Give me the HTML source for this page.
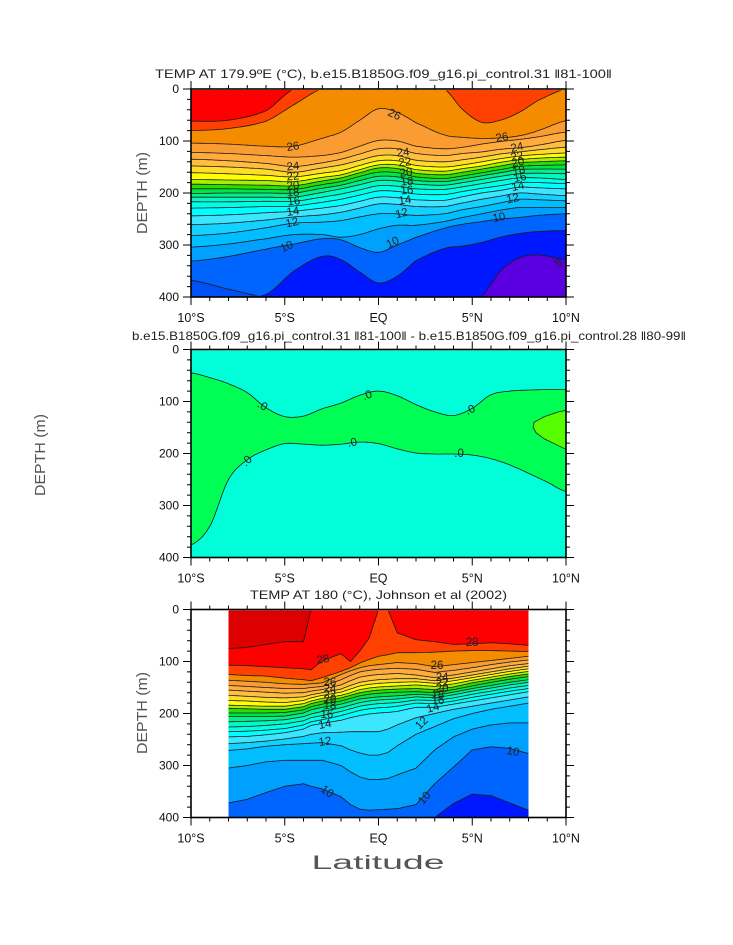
<!DOCTYPE html>
<html><head><meta charset="utf-8"><title>Temperature sections</title>
<style>
html,body{margin:0;padding:0;background:#fff;}
svg{display:block;font-family:"Liberation Sans",sans-serif;}
</style></head>
<body>
<svg id="chart" width="733" height="945" viewBox="0 0 733 945" xmlns="http://www.w3.org/2000/svg">
<rect x="0" y="0" width="733" height="945" fill="#fff"/>
</svg>
<script>
// ===== Panel 1 data: model temperature (isotherm depths, m) =====
const p1Lats = [-10,-8,-6,-4.5,-3,-2,-1,0,1,2,3.5,4.5,5.5,6.5,7.5,8.5,10];
const p1Levels = [28,27,26,25,24,23,22,21,20,19,18,17,16,15,14,13,12,11,10,9.5,9,8];
const p1Depths = [
[62,60,42,0,0,0,0,0,0,0,0,0,0,0,0,0,0],
[80,76,62,30,0,0,0,0,0,0,0,40,64,60,45,22,0],
[104,106,110,110,95,83,60,38,45,65,88,93,95,94,90,80,61],
[122,124,128,131,128,122,110,99,100,110,115,112,106,101,97,92,83],
[135,138,143,149,142,135,125,115,115,124,128,124,121,116,113,108,99],
[148,150,154,160,152,146,137,128,128,137,140,136,131,125,121,117,112],
[161,163,166,169,162,157,147,138,138,147,150,146,140,134,129,126,123],
[174,175,176,178,170,165,155,146,146,155,158,153,148,141,136,133,131],
[183,184,185,186,177,171,161,152,153,162,165,160,154,148,142,140,138],
[192,192,193,193,184,178,168,160,161,169,172,167,161,155,149,147,146],
[201,200,200,200,191,185,176,168,169,176,178,173,167,161,155,154,154],
[208,208,208,208,199,192,184,176,177,183,185,180,174,168,163,162,163],
[217,217,216,216,208,202,194,186,187,192,193,188,182,176,171,171,174],
[229,228,226,225,218,212,204,196,197,202,203,197,191,186,180,180,182],
[244,242,238,235,229,224,216,208,209,213,214,207,200,195,189,190,192],
[261,258,252,246,242,237,229,221,222,226,226,219,212,206,200,202,205],
[282,277,267,258,256,253,246,240,240,243,240,232,226,219,212,213,215],
[304,298,288,280,280,285,280,269,262,262,255,247,240,233,228,228,228],
[331,322,308,298,288,290,305,314,300,285,268,260,255,250,247,243,240],
[368,385,400,400,400,400,400,400,400,400,400,400,400,400,400,400,400],
[400,400,395,350,322,328,352,373,360,330,307,302,295,285,278,274,272],
[400,400,400,400,400,400,400,400,400,400,400,400,398,350,325,319,328]
];
const p1LabelText = ["26","26","26","24","22","20","18","16","14","12","10","24","22","20","18","16","14","12","10","24","22","20","18","16","14","12","10","8"];
const p1LabelLat = [0.83,-4.56,6.59,-4.56,-4.56,-4.56,-4.56,-4.51,-4.56,-4.61,-4.88,1.31,1.41,1.47,1.52,1.52,1.41,1.25,0.77,7.39,7.39,7.44,7.49,7.55,7.44,7.17,6.43,9.63];
const p1LabelDepth = [50,112,94,150,169,187,200,217,237,258,304,123,142,162,179,196,215,240,296,113,131,142,158,171,188,212,248,335];
const p1LabelRot = [25,-8,-10,-5,-5,-5,-5,-5,-8,-12,-25,-5,-5,-5,-5,-5,-8,-15,-25,-12,-12,-12,-12,-12,-12,-12,-12,-40];

// ===== Panel 2 data: difference (zero contours) =====
const p2Lats = [-10,-9,-8,-7,-6,-5,-4,-3,-2,-1,0,1,2,3,4,5,6,7,8,9,10];
const p2Levels = [0.0, -0.0];
const p2Depths = [
[45,54,66,83,112,129,128,114,103,88,80,89,106,120,127,113,87,80,78,77,77],
[376,340,250,212,193,181,182,184,182,178,181,191,199,201,201,203,210,222,238,255,273]
];
const p2BlobLat = [10,9.6,8.85,8.3,8.25,8.4,8.85,9.6,10];
const p2BlobDepth = [117,120,129,140,150,160,172,185,192];
const p2LabelLat = [-6.2,-0.6,4.9,-7.0,-1.4,4.3];
const p2LabelDepth = [109,89,117,215,180,201];
const p2LabelRot = [30,-20,-25,-45,-10,0];

// ===== Panel 3 data: Johnson et al (2002) observations =====
const p3Lats = [-8,-7,-6,-5,-4,-3.6,-3,-2,-1.5,-1,-0.5,0,0.5,1,2,3,4,5,6,7,8];
const p3Levels = [29,28,27,26,25,24,23,22,21,20,19,18,17,16,15,14,13,12,11,10,9];
const p3Depths = [
[75,73,67,62,62,0,0,0,0,0,0,0,0,0,0,0,0,0,0,0,0],
[107,108,110,112,114,116,99,85,100,80,55,0,0,45,58,62,67,66,64,66,69],
[125,127,128,132,135,137,131,119,112,103,96,90,87,83,83,82,80,79,79,80,81],
[136,138,140,143,144,143,141,125,118,112,108,106,104,102,104,110,106,102,98,94,90],
[146,148,150,152,152,150,148,135,127,120,117,115,114,113,115,121,117,112,106,101,97],
[155,157,159,161,160,157,154,145,137,130,127,125,124,123,126,131,126,120,114,108,104],
[165,167,169,170,168,164,160,153,146,140,137,135,134,133,133,137,132,126,120,114,109],
[175,176,178,179,175,170,165,159,153,147,144,142,141,140,139,142,137,131,125,119,114],
[184,185,186,186,181,176,171,165,160,154,151,149,148,147,145,148,143,136,130,124,119],
[190,191,192,192,187,181,176,170,165,160,157,155,154,153,152,154,149,141,135,129,124],
[199,199,199,198,193,187,182,176,171,166,163,161,160,159,158,160,154,147,140,134,129],
[206,206,206,205,199,193,188,182,177,172,170,168,167,166,163,165,159,152,146,140,135],
[216,215,214,212,206,201,196,189,184,179,176,174,173,172,168,170,164,157,151,145,140],
[226,225,223,220,214,208,204,196,191,186,183,181,180,179,174,175,170,163,157,151,146],
[235,234,232,229,222,216,212,204,199,194,191,189,188,186,180,181,176,169,163,157,152],
[245,244,241,237,230,223,219,213,208,204,201,199,198,196,188,188,182,176,170,164,158],
[258,256,253,249,244,240,237,236,235,235,235,235,230,222,208,200,192,186,180,174,168],
[271,268,263,260,258,257,256,262,270,276,280,280,275,262,240,225,210,200,192,186,180],
[305,300,293,290,290,290,290,300,312,322,327,327,325,318,305,270,245,230,222,218,218],
[372,365,352,340,335,340,345,360,375,384,386,385,384,383,375,335,303,270,264,267,277],
[400,400,400,400,400,400,400,400,400,400,400,400,400,400,400,400,373,355,358,372,386]
];
const p3LabelText = ["28","28","26","24","22","20","18","16","14","12","10","26","24","22","20","18","16","14","12","10","10"];
const p3LabelLat = [-2.96,4.99,-2.59,-2.59,-2.59,-2.59,-2.59,-2.75,-2.85,-2.85,-2.75,3.12,3.39,3.39,3.39,3.17,3.17,2.91,2.32,2.48,7.17];
const p3LabelDepth = [97,64,141,154,165,174,186,203,222,255,351,109,132,142,153,165,176,190,219,363,274];
const p3LabelRot = [-10,0,0,0,0,0,0,0,-10,-8,35,0,0,0,0,0,0,-15,-45,-50,10];

// ===== shared colour scale: colour of the band just BELOW (colder than) each level =====
const bandLevels = [29,28,27,26,25,24,23,22,21,20,19,18,17,16,15,14,13,12,11,10,9.5,9,8];
const bandColors = ['#ff0000','#ff4000','#f58c00','#fa9c32','#ffac3c','#ffbe40','#ffdc28','#ffff00','#a8f000','#28e000','#00e646','#00f08c','#00fac3','#00ffe6','#00ffff','#3ce6ff','#14d2ff','#00beff','#00a0ff','#0064ff','#0050f5','#0018ff','#5a00e0'];
function colorBelow(level){
  const i = bandLevels.indexOf(level);
  return bandColors[i];
}

const NS = 'http://www.w3.org/2000/svg';
const svg = document.getElementById('chart');
function mk(tag, parent){ const e = document.createElementNS(NS, tag); (parent||svg).appendChild(e); return e; }

const X0 = 191, XW = 375, PH = 208;
function xOf(lat){ return X0 + (lat + 10) / 20 * XW; }
function yOf(top, d){ return top + d / 400 * PH; }

function catmull(p0,p1,p2,p3,t){
  const t2=t*t, t3=t2*t;
  return 0.5*((2*p1)+(-p0+p2)*t+(2*p0-5*p1+4*p2-p3)*t2+(-p0+3*p1-3*p2+p3)*t3);
}
function sample(lats, deps, smooth){
  const pts=[]; const n=lats.length; const steps=14;
  for(let i=0;i<n-1;i++){
    for(let s=0;s<steps;s++){
      const t=s/steps;
      const lat=lats[i]+(lats[i+1]-lats[i])*t;
      let d;
      if(smooth){
        const p0=deps[Math.max(i-1,0)], p3=deps[Math.min(i+2,n-1)];
        d=catmull(p0,deps[i],deps[i+1],p3,t);
      } else d=deps[i]+(deps[i+1]-deps[i])*t;
      pts.push([lat, Math.max(0, Math.min(400, d))]);
    }
  }
  pts.push([lats[n-1], Math.max(0, Math.min(400, deps[n-1]))]);
  return pts;
}

let clipId = 0;
function makeClip(x,y,w,h){
  const defs = mk('defs');
  const cp = mk('clipPath', defs);
  const id = 'clip' + (clipId++);
  cp.setAttribute('id', id);
  const r = mk('rect', cp);
  r.setAttribute('x', x); r.setAttribute('y', y); r.setAttribute('width', w); r.setAttribute('height', h);
  return id;
}

function drawPanel(cfg){
  const top = cfg.top, bottom = top + PH;
  const xa = xOf(cfg.latMin), xb = xOf(cfg.latMax);
  const g = mk('g');
  
  
  const fillClip = makeClip(xa, top+1, xb-xa, PH-1);
  const lineClip = makeClip(xa, top+1.6, xb-xa, PH-3);
  const fills = mk('g', g);
  fills.setAttribute('clip-path', 'url(#'+fillClip+')');
  
  
  const bg = mk('rect', fills);
  bg.setAttribute('x', xa); bg.setAttribute('y', top); bg.setAttribute('width', xb-xa); bg.setAttribute('height', PH);
  bg.setAttribute('fill', cfg.topColor);
  
  
  const lineSets = [];
  cfg.levels.forEach((lev, k) => {
    const pts = sample(cfg.lats, cfg.depths[k], cfg.smooth);
    lineSets.push(pts);
    let d = '';
    pts.forEach((p, j) => { d += (j ? 'L' : 'M') + xOf(p[0]).toFixed(1) + ',' + yOf(top, p[1]).toFixed(1); });
    d += 'L' + xOf(pts[pts.length-1][0]).toFixed(1) + ',' + (bottom+3) + 'L' + xOf(pts[0][0]).toFixed(1) + ',' + (bottom+3) + 'Z';
    const band = mk('path', fills);
    band.setAttribute('d', d);
    band.setAttribute('fill', cfg.colors[k]);
    
    
  });
  if (cfg.blob) {
    let d = '';
    cfg.blob.lat.forEach((la, j) => { d += (j ? 'L' : 'M') + xOf(la).toFixed(1) + ',' + yOf(top, cfg.blob.depth[j]).toFixed(1); });
    const b = mk('path', fills);
    b.setAttribute('d', d + 'Z');
    b.setAttribute('fill', cfg.blob.color);
    b.setAttribute('stroke', '#222');
    b.setAttribute('stroke-width', '0.8');
    
    
  }
  const lines = mk('g', g);
  lines.setAttribute('clip-path', 'url(#'+lineClip+')');
  
  
  lineSets.forEach((pts, k) => {
    let d = '';
    pts.forEach((p, j) => { d += (j ? 'L' : 'M') + xOf(p[0]).toFixed(1) + ',' + yOf(top, p[1]).toFixed(1); });
    const ln = mk('path', lines);
    ln.setAttribute('d', d);
    ln.setAttribute('fill', 'none');
    ln.setAttribute('stroke', '#1a1a1a');
    ln.setAttribute('stroke-width', '0.8');
    
    
  });
  cfg.labelText.forEach((t, k) => {
    const x = xOf(cfg.labelLat[k]), y = yOf(top, cfg.labelDepth[k]);
    const tx = mk('text', g);
    tx.textContent = t;
    tx.setAttribute('x', x.toFixed(1)); tx.setAttribute('y', y.toFixed(1));
    tx.setAttribute('font-size', '11.5');
    tx.setAttribute('fill', '#222');
    tx.setAttribute('text-anchor', 'middle');
    tx.setAttribute('dominant-baseline', 'central');
    tx.setAttribute('transform', 'rotate(' + cfg.labelRot[k] + ' ' + x.toFixed(1) + ' ' + y.toFixed(1) + ')');
    
    
  });
  drawAxes(g, top);
}

const yTicks = [0,100,200,300,400];
const xTickLats = [-10,-5,0,5,10];
const xTickText = ['10°S','5°S','EQ','5°N','10°N'];
function drawAxes(g, top){
  const bottom = top + PH, left = X0, right = X0 + XW;
  const ax = mk('g', g);
  
  
  let d = '';
  for (let lat = -10; lat <= 10; lat++) {
    const L = (lat % 5 === 0) ? 8 : 4;
    const x = xOf(lat);
    d += 'M'+x+','+bottom+'v'+L+'M'+x+','+top+'v'+(-L);
  }
  for (let dep = 0; dep <= 400; dep += 20) {
    const L = (dep % 100 === 0) ? 8 : 4;
    const y = yOf(top, dep);
    d += 'M'+left+','+y+'h'+(-L)+'M'+right+','+y+'h'+L;
  }
  const tk = mk('path', ax);
  tk.setAttribute('d', d); tk.setAttribute('stroke', '#000'); tk.setAttribute('stroke-width', '1'); tk.setAttribute('fill', 'none');
  
  
  const fr = mk('rect', ax);
  fr.setAttribute('x', left); fr.setAttribute('y', top); fr.setAttribute('width', XW); fr.setAttribute('height', PH);
  fr.setAttribute('fill', 'none'); fr.setAttribute('stroke', '#000'); fr.setAttribute('stroke-width', '1.6');
  
  
  yTicks.forEach(v => {
    const t = mk('text', ax);
    t.textContent = String(v);
    t.setAttribute('x', left - 12); t.setAttribute('y', yOf(top, v) + 4);
    t.setAttribute('font-size', '12'); t.setAttribute('text-anchor', 'end'); t.setAttribute('fill', '#111');
    
    
  });
  xTickLats.forEach((v, i) => {
    const t = mk('text', ax);
    t.textContent = xTickText[i];
    t.setAttribute('x', xOf(v)); t.setAttribute('y', bottom + 25);
    t.setAttribute('font-size', '12.5'); t.setAttribute('text-anchor', 'middle'); t.setAttribute('fill', '#111');
    
    
  });
}

drawPanel({name:'panel-model-temp', top:89, latMin:-10, latMax:10, lats:p1Lats, levels:p1Levels, depths:p1Depths,
  colors:p1Levels.map(colorBelow), topColor:'#ff0000', smooth:true,
  labelText:p1LabelText, labelLat:p1LabelLat, labelDepth:p1LabelDepth, labelRot:p1LabelRot});
drawPanel({name:'panel-difference', top:349.5, latMin:-10, latMax:10, lats:p2Lats, levels:p2Levels, depths:p2Depths,
  colors:['#00ff55','#00ffd8'], topColor:'#00ffd8', smooth:true,
  blob:{lat:p2BlobLat, depth:p2BlobDepth, color:'#55ff00'},
  labelText:p2LabelLat.map(() => '.0'), labelLat:p2LabelLat, labelDepth:p2LabelDepth, labelRot:p2LabelRot});
drawPanel({name:'panel-observed-temp', top:609.5, latMin:-8, latMax:8, lats:p3Lats, levels:p3Levels, depths:p3Depths,
  colors:p3Levels.map(colorBelow), topColor:'#dc0000', smooth:false,
  labelText:p3LabelText, labelLat:p3LabelLat, labelDepth:p3LabelDepth, labelRot:p3LabelRot});

function addText(txt, x, y, size, len, rot, anchor){
  const t = mk('text');
  t.textContent = txt;
  t.setAttribute('x', x); t.setAttribute('y', y);
  t.setAttribute('font-size', size);
  t.setAttribute('fill', '#222');
  t.setAttribute('text-anchor', anchor || 'start');
  if (len) { t.setAttribute('textLength', len); t.setAttribute('lengthAdjust', 'spacingAndGlyphs'); }
  if (rot) t.setAttribute('transform', 'rotate(' + rot + ' ' + x + ' ' + y + ')');
  return t;
}
let t;
t = addText('TEMP AT 179.9ºE (°C), b.e15.B1850G.f09_g16.pi_control.31 ‖81-100‖', 155, 78, 12, 457);


t = addText('b.e15.B1850G.f09_g16.pi_control.31 ‖81-100‖ - b.e15.B1850G.f09_g16.pi_control.28 ‖80-99‖', 132, 340, 12, 554);


t = addText('TEMP AT 180 (°C), Johnson et al (2002)', 250, 599, 12, 257);


t = addText('DEPTH (m)', 147, 193, 15, 82, -90, 'middle');
t.setAttribute('fill', '#555');


t = addText('DEPTH (m)', 45, 455, 15, 82, -90, 'middle');
t.setAttribute('fill', '#555');


t = addText('DEPTH (m)', 147, 713, 15, 82, -90, 'middle');
t.setAttribute('fill', '#555');


t = addText('Latitude', 378, 869, 19, 133, 0, 'middle');
t.setAttribute('fill', '#555');


</script>
</body></html>
